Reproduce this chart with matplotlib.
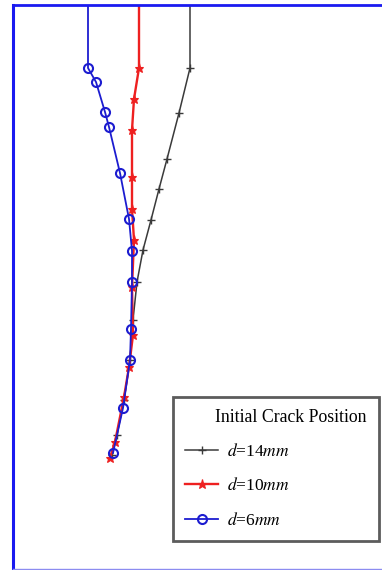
import matplotlib
matplotlib.use("Agg")
import matplotlib.pyplot as plt

plt.rcParams["font.family"] = ["Liberation Serif", "DejaVu Serif"]
plt.rcParams["mathtext.fontset"] = "stix"

# Crack paths (x: lateral position, y: depth), one list per initial crack position
x_d14 = [17.7, 17.7, 16.6, 15.4, 14.6, 13.8, 13.0, 12.4, 12.0, 11.7, 11.1, 10.4, 9.9]
y_d14 = [0.0, 6.3, 10.8, 15.4, 18.4, 21.5, 24.5, 27.7, 31.5, 35.5, 39.5, 43.0, 45.0]

x_d10 = [12.6, 12.6, 12.1, 11.9, 11.9, 11.9, 12.1, 11.9, 12.0, 11.6, 11.1, 10.2, 9.7]
y_d10 = [0.0, 6.3, 9.4, 12.5, 17.2, 20.4, 23.5, 28.2, 33.0, 36.2, 39.2, 43.7, 45.3]

x_d6 = [7.5, 7.5, 8.3, 9.2, 9.6, 10.7, 11.6, 11.9, 11.9, 11.8, 11.7, 11.0, 10.0]
y_d6 = [0.0, 6.3, 7.7, 10.7, 12.2, 16.8, 21.4, 24.6, 27.7, 32.4, 35.5, 40.3, 44.8]

labels = [r"$d$=14$mm$", r"$d$=10$mm$", r"$d$=6$mm$"]
legend_title = "Initial Crack Position"

fig = plt.figure(figsize=(3.82, 5.70), dpi=100)
ax = fig.add_axes([13 / 382, 1 - 569 / 570, 375 / 382, 564 / 570])

ax.plot(x_d14, y_d14, color="#3a3a3a", lw=1.1, marker="+", ms=6, mew=1.0,
        markevery=slice(1, None), label=labels[0])
ax.plot(x_d10, y_d10, color="#ee2020", lw=1.7, marker="*", ms=6.5, mew=0.8,
        markevery=slice(1, None), label=labels[1])
ax.plot(x_d6, y_d6, color="#1c1cd0", lw=1.3, marker="o", ms=6.5, mew=1.5,
        mfc="none", markevery=slice(1, None), label=labels[2])

ax.set_xlim(0, 37.5)
ax.set_ylim(56.4, 0)
ax.set_xticks([])
ax.set_yticks([])

ax.spines["right"].set_visible(False)
ax.spines["left"].set_color("#1a1af0")
ax.spines["left"].set_linewidth(2.2)
ax.spines["top"].set_color("#1a1af0")
ax.spines["top"].set_linewidth(2.0)
ax.spines["bottom"].set_color("#8c8cf0")
ax.spines["bottom"].set_linewidth(1.0)

leg = ax.legend(title=legend_title, loc="lower left",
                bbox_to_anchor=(160 / 375, 28 / 564, 206 / 375, 148 / 564),
                mode="expand", frameon=True, fancybox=False, fontsize=12.5,
                title_fontsize=12.8, handlelength=1.9, handletextpad=0.5,
                labelspacing=1.0, borderpad=0.7, alignment="right",
                borderaxespad=0)
leg.get_frame().set_edgecolor("#333333")
leg.get_frame().set_linewidth(2.0)

fig.savefig("out.png", dpi=100, facecolor="white")
